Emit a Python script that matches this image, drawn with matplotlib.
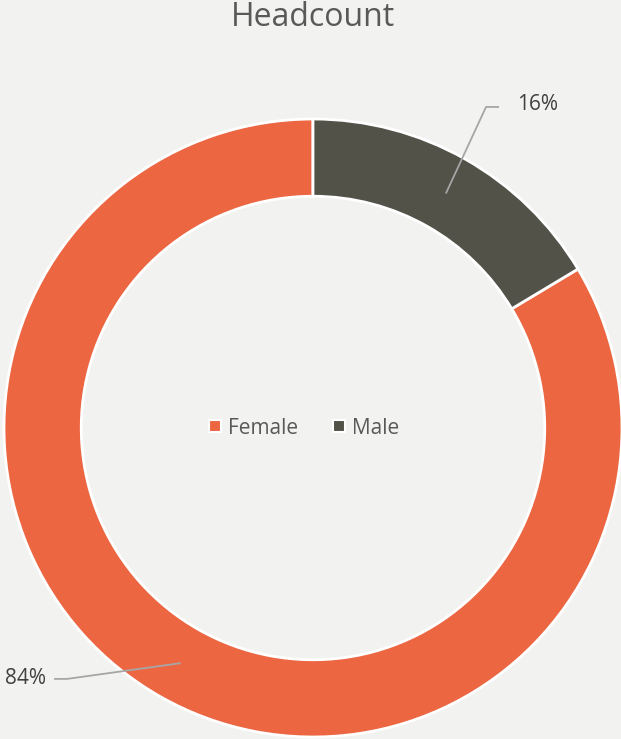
import numpy as np
import matplotlib
matplotlib.use("Agg")
import matplotlib.pyplot as plt
from matplotlib.lines import Line2D

categories = ["Female", "Male"]
values = [83.6, 16.4]
colors = ["#EC6642", "#525249"]
title = "Headcount"

W, H = 621, 739
BG = "#F2F2F0"
plt.rcParams['font.family'] = ['Open Sans', 'DejaVu Sans']

fig = plt.figure(figsize=(W / 100, H / 100), dpi=100, facecolor=BG)
cx, cy, R = 313, 428, 309
ax = fig.add_axes([(cx - R) / W, (H - cy - R) / H, 2 * R / W, 2 * R / H])
ax.set_facecolor(BG)

width = 0.25
wedges, _ = ax.pie(values, colors=colors, startangle=90, counterclock=True,
                   radius=1, wedgeprops=dict(width=width, edgecolor='white', linewidth=2))
ax.set_xlim(-1, 1)
ax.set_ylim(-1, 1)
ax.set_aspect('equal')
ax.axis('off')

total = sum(values)
pct = [f"{round(v / total * 100)}%" for v in values]

# leader lines: (elbow, end, text pos, ha)
layout = {
    0: ((-0.796, -0.812), (-0.835, -0.812), (-0.864, -0.812), 'right'),
    1: ((0.560, 1.039), (0.599, 1.039), (0.660, 1.046), 'left'),
}
rmid = 1 - width / 2
for i, w in enumerate(wedges):
    ang = np.deg2rad((w.theta1 + w.theta2) / 2)
    sx, sy = rmid * np.cos(ang), rmid * np.sin(ang)
    elbow, end, tpos, ha = layout[i]
    ax.plot([sx, elbow[0], end[0]], [sy, elbow[1], end[1]], color='#A6A6A6',
            lw=1.3, clip_on=False, zorder=5)
    ax.text(tpos[0], tpos[1], pct[i], ha=ha, va='center', fontsize=15,
            color='#404040', clip_on=False)

handles = [Line2D([], [], marker='s', linestyle='none', markersize=9,
                  markerfacecolor=c, markeredgecolor='white', markeredgewidth=1.5)
           for c in colors]
ax.legend(handles, categories, loc='center', ncol=2, frameon=False,
          bbox_to_anchor=(0.5 - 11 / 618, 0.5),
          fontsize=15, labelcolor='#595959', handletextpad=0.1,
          columnspacing=1.5, handlelength=1.0)

fig.text(cx / W, 1 - 17 / H, title, ha='center', va='center', fontsize=23,
         color='#595959')

fig.savefig("out.png", dpi=100, facecolor=BG)
